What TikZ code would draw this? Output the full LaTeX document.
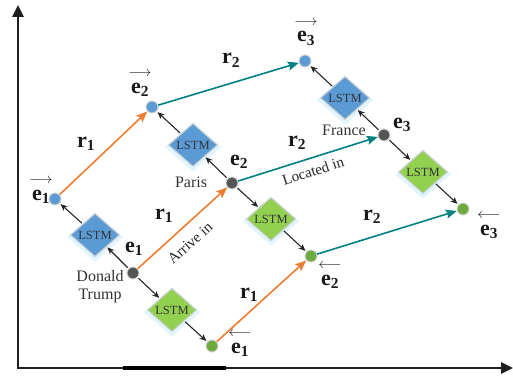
\documentclass[tikz,border=0pt]{standalone}
\usepackage{fontspec}
\setmainfont{Liberation Serif}
\usetikzlibrary{shapes.geometric,arrows.meta}
\definecolor{orng}{RGB}{237,125,49}
\definecolor{teal2}{RGB}{0,128,128}
\definecolor{bluef}{RGB}{91,155,213}
\definecolor{greenf}{RGB}{146,208,80}
\definecolor{greend}{RGB}{108,170,62}
\definecolor{grayd}{RGB}{85,85,85}
\newcommand{\ovr}[1]{\shortstack{{\fontsize{14}{14}\selectfont$\longrightarrow$}\\[3pt]\textbf{e\textsubscript{#1}}}}
\newcommand{\ovl}[1]{\shortstack{{\fontsize{14}{14}\selectfont$\longleftarrow$}\\[3pt]\textbf{e\textsubscript{#1}}}}
\begin{document}
\begin{tikzpicture}[x=1pt,y=-1pt,
  pt/.style={circle,minimum size=12pt,inner sep=0pt,draw=gray!35,line width=1pt},
  gpt/.style={pt,fill=grayd},
  bpt/.style={pt,fill=bluef},
  npt/.style={pt,fill=greend},
  lstm/.style={diamond,minimum width=49pt,minimum height=43pt,inner sep=0pt,draw=gray!40,line width=1pt,
    font=\fontsize{12.5}{12.5}\selectfont,text=black!80,
    preaction={fill=cyan!12,draw=cyan!12,line width=5pt,transform canvas={yshift=-2pt}}},
  blstm/.style={lstm,fill=bluef},
  nlstm/.style={lstm,fill=greenf},
  lab/.style={font=\fontsize{22}{24}\selectfont,inner sep=0pt,anchor=base,text=black!90},
  txt/.style={font=\fontsize{16}{18}\selectfont,inner sep=0pt,text=black!80},
  rot/.style={font=\fontsize{15}{17}\selectfont,inner sep=0pt,text=black!85},
  blk/.style={-{Stealth[length=7pt,width=6pt]},line width=1.1pt,black!85,shorten >=1pt,shorten <=1pt},
  orar/.style={-{Stealth[length=11pt,width=9pt,inset=2pt]},line width=1.6pt,orng},
  tlar/.style={-{Stealth[length=11pt,width=9pt,inset=2pt]},line width=1.6pt,teal2},
  axis/.style={line width=2.5pt,black!88,-{Triangle[length=12pt,width=11pt]}}
]
\useasboundingbox (0,0) rectangle (513,377);
% axes
\coordinate (o) at (18,368);
\coordinate (ytop) at (18,5);
\coordinate (xend) at (513,368);
\coordinate (s1) at (123,368);
\coordinate (s2) at (226,368);
\draw[axis] (o) -- (ytop);
\draw[axis] ([xshift=-1.25pt]o) -- (xend);
\draw[line width=3.4pt,black] (s1) -- (s2);
% points
\node[gpt] (g1) at (133,273) {};
\node[gpt] (g2) at (232,183) {};
\node[gpt] (g3) at (384,135) {};
\node[bpt] (b1) at (55,199) {};
\node[bpt] (b2) at (152,107) {};
\node[bpt] (b3) at (305,61) {};
\node[npt] (n1) at (212,346) {};
\node[npt] (n2) at (311,256) {};
\node[npt] (n3) at (463,209) {};
% LSTM
\node[blstm] (lb1) at (95,235) {LSTM};
\node[blstm] (lb2) at (193,145) {LSTM};
\node[blstm] (lb3) at (345,98) {LSTM};
\node[nlstm] (ln1) at (172,310) {LSTM};
\node[nlstm] (ln2) at (271,219) {LSTM};
\node[nlstm] (ln3) at (423,172) {LSTM};
% black arrows
\foreach \g/\l/\p in {g1/lb1/b1,g1/ln1/n1,g2/lb2/b2,g2/ln2/n2,g3/lb3/b3,g3/ln3/n3}{
  \draw[blk] (\g) -- (\l);
  \draw[blk] (\l) -- (\p);
}
% relation arrows
\draw[orar] (b1) -- (b2);
\draw[orar] (g1) -- (g2);
\draw[orar] (n1) -- (n2);
\draw[tlar] (b2) -- (b3);
\draw[tlar] (g2) -- (g3);
\draw[tlar] (n2) -- (n3);
% entity labels
\node[lab] (tb1) at (41,200) {\ovr{1}};
\node[lab] (tb2) at (140,93) {\ovr{2}};
\node[lab] (tb3) at (306,42) {\ovr{3}};
\node[lab] (tn1) at (240,353) {\ovl{1}};
\node[lab] (tn2) at (330,285) {\ovl{2}};
\node[lab] (tn3) at (489,235) {\ovl{3}};
\node[lab] (tg1) at (134,252) {\textbf{e\textsubscript{1}}};
\node[lab] (tg2) at (239,165) {\textbf{e\textsubscript{2}}};
\node[lab] (tg3) at (402,128) {\textbf{e\textsubscript{3}}};
% relation labels
\node[lab] (r1a) at (86,147) {\textbf{r\textsubscript{1}}};
\node[lab] (r1b) at (164,219) {\textbf{r\textsubscript{1}}};
\node[lab] (r1c) at (249,298) {\textbf{r\textsubscript{1}}};
\node[lab] (r2a) at (231,64) {\textbf{r\textsubscript{2}}};
\node[lab] (r2b) at (297,146) {\textbf{r\textsubscript{2}}};
\node[lab] (r2c) at (372,220) {\textbf{r\textsubscript{2}}};
% words
\node[txt,align=center] (dt) at (100,287) {Donald\\Trump};
\node[txt,anchor=base] (pa) at (191,187) {Paris};
\node[txt,anchor=base] (fr) at (344,135) {France};
\node[rot,rotate=42] (ar) at (190,243) {Arrive in};
\node[rot,rotate=18] (lo) at (313,171) {Located in};
\end{tikzpicture}
\end{document}
